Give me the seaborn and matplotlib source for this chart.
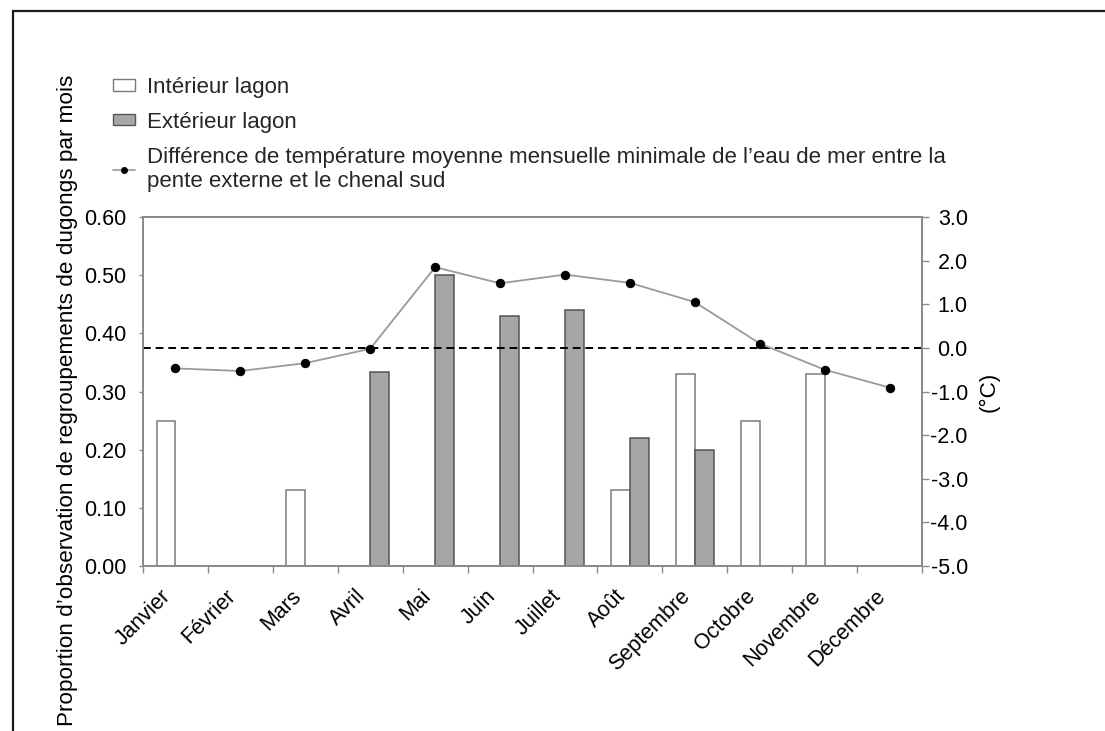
import numpy as np
import pandas as pd
import matplotlib
matplotlib.use("Agg")
import matplotlib.pyplot as plt
from matplotlib.patches import Rectangle, Patch
from matplotlib.lines import Line2D
from matplotlib.transforms import ScaledTranslation
import seaborn as sns

# Months of the year
mois = ["Janvier", "Février", "Mars", "Avril", "Mai", "Juin", "Juillet",
        "Août", "Septembre", "Octobre", "Novembre", "Décembre"]

# Proportion of dugong group observations per month
interieur = [0.25, 0.0, 0.13, 0.0, 0.0, 0.0, 0.0, 0.13, 0.33, 0.25, 0.33, 0.0]
exterieur = [0.0, 0.0, 0.0, 0.333, 0.50, 0.43, 0.44, 0.22, 0.20, 0.0, 0.0, 0.0]

# Monthly mean minimum sea-water temperature difference (°C)
diff_temp = [-0.47, -0.53, -0.35, -0.02, 1.85, 1.48, 1.68, 1.49, 1.05, 0.10, -0.50, -0.91]

lbl_int = "Intérieur lagon"
lbl_ext = "Extérieur lagon"
lbl_temp = ("Différence de température moyenne mensuelle minimale de l’eau de mer entre la\n"
            "pente externe et le chenal sud")

left_ticks = [0.0, 0.1, 0.2, 0.3, 0.4, 0.5, 0.6]
right_ticks = [-5.0, -4.0, -3.0, -2.0, -1.0, 0.0, 1.0, 2.0, 3.0]

df = pd.DataFrame({
    "mois": mois * 2,
    "zone": [lbl_int] * len(mois) + [lbl_ext] * len(mois),
    "proportion": interieur + exterieur,
})

sns.set_theme(style="white")
plt.rcParams["font.family"] = ["Liberation Sans", "DejaVu Sans"]
FS = 15.5
FS_LAB = 16.2
AXIS_GREY = "#8a8a8a"

fig = plt.figure(figsize=(11.05, 7.31), dpi=100)
ax = fig.add_axes([143 / 1105, 1 - 566 / 731, 779 / 1105, 349 / 731])

sns.barplot(data=df, x="mois", y="proportion", hue="zone",
            hue_order=[lbl_int, lbl_ext], order=mois,
            palette={lbl_int: "white", lbl_ext: "#a6a6a6"},
            width=0.58, gap=0, linewidth=1.1, legend=False, ax=ax)
for patch in ax.containers[0]:
    patch.set_edgecolor("#7a7a7a")
for patch in ax.containers[1]:
    patch.set_edgecolor("#555555")

ax.set_xlim(-0.5, len(mois) - 0.5)
ax.set_ylim(0, 0.6)
ax.set_yticks(left_ticks)
ax.set_yticklabels([f"{v:.2f}" for v in left_ticks], fontsize=FS)
ax.set_xticks(np.arange(len(mois)))
ax.set_xticklabels(mois, rotation=45, ha="right", fontsize=FS)
shift = ScaledTranslation(13 / 100, 0, fig.dpi_scale_trans)
for lab in ax.get_xticklabels():
    lab.set_transform(lab.get_transform() + shift)
ax.set_xticks(np.arange(-0.5, len(mois), 1), minor=True)
ax.tick_params(axis="x", which="major", length=0, pad=14, colors="black")
ax.tick_params(axis="x", which="minor", length=5, width=1, direction="out",
               color=AXIS_GREY, bottom=True)
ax.tick_params(axis="y", length=3, width=1, direction="out", color=AXIS_GREY,
               pad=9, left=True, labelcolor="black")
ax.set_xlabel("")
ax.set_ylabel("Proportion d’observation de regroupements de dugongs par mois",
              fontsize=FS_LAB, color="black")
ax.yaxis.set_label_coords(-0.083, 0.475)
for sp in ax.spines.values():
    sp.set_color(AXIS_GREY)
    sp.set_linewidth(1.3)

# Temperature difference on the secondary axis
ax2 = ax.twinx()
ax2.axhline(0, color="black", lw=1.4, dashes=(4, 2.5))
sns.lineplot(x=np.arange(len(mois)), y=diff_temp, ax=ax2, color="#9a9a9a",
             lw=1.3, marker="o", markersize=6, markerfacecolor="black",
             markeredgecolor="black")
ax2.set_ylim(-5, 3)
ax2.set_yticks(right_ticks)
ax2.set_yticklabels([f"{v:.1f}" for v in right_ticks], fontsize=FS, ha="right")
ax2.tick_params(axis="y", length=5, width=1, direction="out", color=AXIS_GREY,
                pad=28, right=True, labelcolor="black")
ax2.set_ylabel("(°C)", fontsize=FS_LAB, color="black")
ax2.yaxis.set_label_coords(1.073, 0.5)
for sp in ax2.spines.values():
    sp.set_color(AXIS_GREY)
    sp.set_linewidth(1.3)

handles = [
    Patch(facecolor="white", edgecolor="#7a7a7a", linewidth=1.0),
    Patch(facecolor="#a6a6a6", edgecolor="#555555", linewidth=1.0),
    Line2D([0], [0], color="#9a9a9a", lw=1.2, marker="o", markersize=4,
           markerfacecolor="black", markeredgecolor="black"),
]
fig.legend(handles, [lbl_int, lbl_ext, lbl_temp], loc="upper left",
           bbox_to_anchor=(113 / 1105, 1 - 77 / 731), frameon=False,
           fontsize=16, handlelength=1.0, handleheight=0.4,
           handletextpad=0.55, labelspacing=0.62, borderpad=0,
           borderaxespad=0)

# Outer border of the figure panel
fig.patches.append(Rectangle((13 / 1105, -0.2), 1.3, 1.2 - 11 / 731,
                             transform=fig.transFigure, fill=False,
                             edgecolor="#1a1a1a", lw=1.6, clip_on=False))

fig.savefig("out.png", dpi=100)
